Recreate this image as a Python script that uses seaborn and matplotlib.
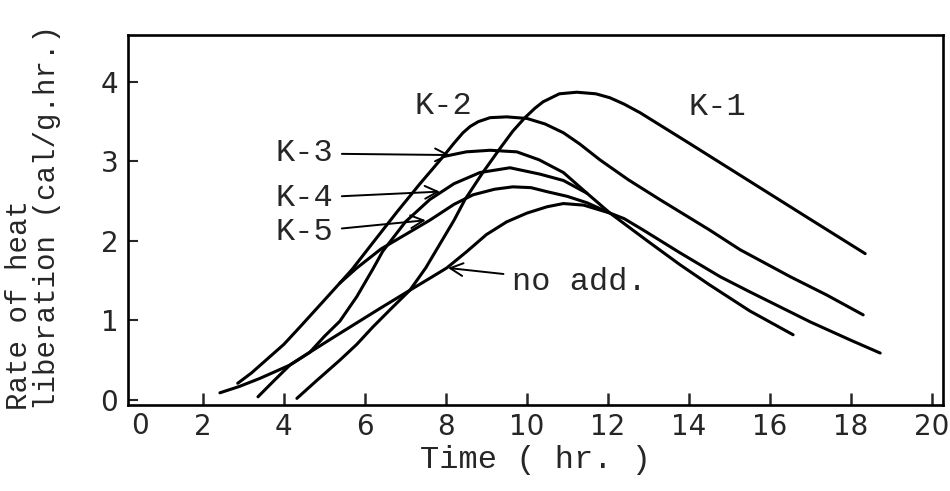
import pandas as pd
import matplotlib
matplotlib.use('Agg')
import matplotlib.pyplot as plt
import seaborn as sns

# Rate of heat liberation (cal/g.hr) vs time (hr)
k1_time = [4.32, 4.8, 5.38, 5.8, 6.2, 6.65, 7.11, 7.5, 7.85, 8.2, 8.47, 8.91, 9.33,
           9.65, 9.95, 10.2, 10.4, 10.8, 11.23, 11.7, 12.05, 12.4, 12.8, 14.0, 15.0,
           16.0, 17.0, 18.35]
k1_rate = [0.02, 0.24, 0.5, 0.7, 0.92, 1.15, 1.38, 1.66, 1.96, 2.26, 2.52, 2.86, 3.16,
           3.38, 3.55, 3.67, 3.75, 3.85, 3.87, 3.85, 3.8, 3.72, 3.61, 3.23, 2.91,
           2.59, 2.27, 1.84]

k2_time = [2.86, 3.2, 3.6, 4.0, 4.4, 4.9, 5.38, 5.68, 6.2, 6.8, 7.36, 7.93, 8.2, 8.42,
           8.6, 8.8, 9.09, 9.5, 10.0, 10.45, 10.9, 11.3, 11.8, 12.5, 13.28, 14.5,
           15.26, 16.5, 17.4, 18.3]
k2_rate = [0.21, 0.34, 0.52, 0.7, 0.92, 1.2, 1.47, 1.64, 1.98, 2.37, 2.72, 3.06, 3.23,
           3.36, 3.44, 3.5, 3.55, 3.56, 3.54, 3.47, 3.36, 3.22, 3.02, 2.77, 2.52,
           2.14, 1.89, 1.55, 1.32, 1.07]

# K-3 leaves the K-2 curve near 8 hr
k3_time = [7.93, 8.5, 9.09, 9.75, 10.3, 10.9, 11.48, 12.05, 13.0, 13.78, 14.5, 15.5,
           16.57]
k3_rate = [3.06, 3.12, 3.14, 3.12, 3.02, 2.86, 2.6, 2.35, 1.99, 1.7, 1.45, 1.12, 0.82]

# K-4 joins K-3 on the way down
k4_time = [3.36, 3.75, 4.15, 4.64, 5.0, 5.38, 5.8, 6.2, 6.44, 7.0, 7.6, 8.2, 8.84,
           9.58, 10.32, 10.9, 11.48]
k4_rate = [0.04, 0.24, 0.44, 0.6, 0.8, 0.99, 1.3, 1.65, 1.87, 2.24, 2.52, 2.72, 2.86,
           2.92, 2.84, 2.76, 2.6]

# K-5 branches off K-2 near 5.4 hr
k5_time = [5.38, 5.8, 6.4, 7.0, 7.6, 8.2, 8.67, 9.2, 9.65, 10.1, 10.49, 11.0, 11.48,
           12.05]
k5_rate = [1.47, 1.66, 1.9, 2.08, 2.26, 2.46, 2.58, 2.65, 2.68, 2.67, 2.62, 2.56,
           2.48, 2.35]

noadd_time = [2.42, 2.9, 3.4, 3.8, 4.15, 4.64, 5.2, 5.8, 6.4, 7.11, 7.6, 8.02, 8.5,
              9.0, 9.5, 10.0, 10.5, 10.9, 11.4, 12.05, 12.4, 12.86, 13.78, 14.77,
              15.5, 16.25, 17.0, 18.0, 18.72]
noadd_rate = [0.09, 0.17, 0.27, 0.36, 0.44, 0.6, 0.78, 0.97, 1.16, 1.38, 1.53, 1.66,
              1.86, 2.08, 2.24, 2.35, 2.43, 2.47, 2.45, 2.35, 2.28, 2.14, 1.85, 1.55,
              1.36, 1.17, 0.98, 0.75, 0.59]

x_ticks = [2, 4, 6, 8, 10, 12, 14, 16, 18, 20]
y_ticks = [0, 1, 2, 3, 4]

curves = {
    'K-1': (k1_time, k1_rate),
    'K-2': (k2_time, k2_rate),
    'K-3': (k3_time, k3_rate),
    'K-4': (k4_time, k4_rate),
    'K-5': (k5_time, k5_rate),
    'no add.': (noadd_time, noadd_rate),
}

df = pd.concat(
    [pd.DataFrame({'time': t, 'rate': r, 'curve': name})
     for name, (t, r) in curves.items()],
    ignore_index=True,
)

sns.set_theme(style='ticks')
plt.rcParams['font.family'] = ['Liberation Mono', 'DejaVu Sans Mono']

fig = plt.figure(figsize=(9.5, 4.91), dpi=100)
ax = fig.add_axes([0.1347, 0.1752, 0.8579, 0.7536])

sns.lineplot(data=df, x='time', y='rate', units='curve', estimator=None,
             sort=False, color='black', lw=2.2, ax=ax)

ax.set_xlim(0.15, 20.27)
ax.set_ylim(-0.063, 4.59)
ax.set_xticks(x_ticks)
ax.set_yticks(y_ticks)

tick_font = ['Liberation Sans Narrow', 'DejaVu Sans']
ax.tick_params(axis='x', direction='in', length=9, width=1.8, pad=6,
               labelsize=20, labelfontfamily=tick_font)
ax.tick_params(axis='y', direction='in', length=7, width=1.5, pad=7,
               labelsize=20, labelfontfamily=tick_font)
ax.text(0.015, -0.02, '0', transform=ax.transAxes, ha='center', va='top',
        fontsize=20, family=tick_font)

for side in ['left', 'right', 'top', 'bottom']:
    ax.spines[side].set_visible(True)
    ax.spines[side].set_color('black')
    ax.spines[side].set_linewidth(1.9)

ax.set_xlabel('Time ( hr. )', fontsize=23, labelpad=3)
ax.set_ylabel('Rate of heat\nliberation (cal/g.hr.)', fontsize=21,
              ha='left', va='center', multialignment='left', linespacing=1.0)
ax.yaxis.set_label_coords(-0.117, -0.014)

# curve labels, with arrows where the original has them
ax.text(7.93, 3.7, 'K-2', fontsize=23, ha='center', va='center')
ax.text(14.7, 3.69, 'K-1', fontsize=23, ha='center', va='center')

arrow = dict(arrowstyle='->', color='black', lw=1.4, shrinkA=4, shrinkB=0)
ax.annotate('K-3', xy=(8.1, 3.08), xytext=(4.5, 3.1), fontsize=23,
            ha='center', va='center', arrowprops=arrow)
ax.annotate('K-4', xy=(7.85, 2.62), xytext=(4.5, 2.54), fontsize=23,
            ha='center', va='center', arrowprops=arrow)
ax.annotate('K-5', xy=(7.5, 2.26), xytext=(4.5, 2.11), fontsize=23,
            ha='center', va='center', arrowprops=arrow)
ax.annotate('no add.', xy=(8.05, 1.66), xytext=(11.3, 1.48), fontsize=23,
            ha='center', va='center', arrowprops=arrow)

fig.savefig('out.png', dpi=100, facecolor='white')
